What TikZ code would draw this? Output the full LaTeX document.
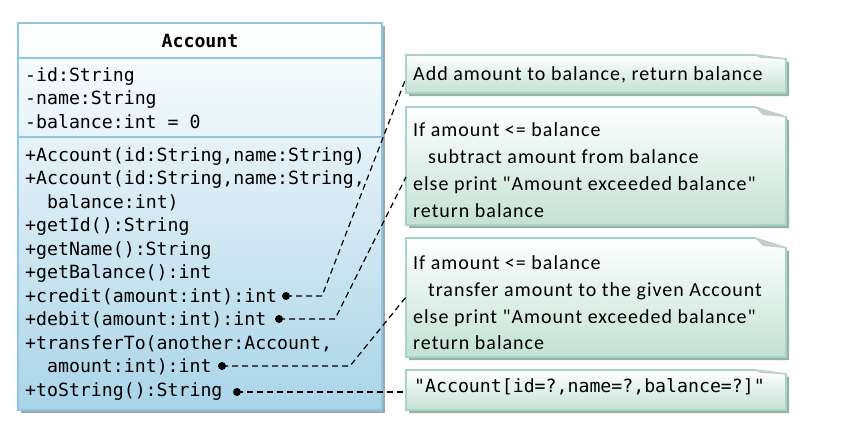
\documentclass[tikz,border=0pt]{standalone}
\usepackage{fontspec}
\setmainfont{Carlito}
\newfontfamily\notefont{Carlito}[LetterSpace=5]
\newfontfamily\codefont{DejaVu Sans Mono}
\usepackage{tikz}
\usetikzlibrary{positioning}
\definecolor{umlborder}{HTML}{8DC7E0}
\definecolor{umlfill}{HTML}{AAD4E8}
\definecolor{umlshadow}{HTML}{9CA8AF}
\definecolor{noteborder}{HTML}{A6D5C4}
\definecolor{notefill}{HTML}{C3E1D4}
\definecolor{noteshadow}{HTML}{98B0A7}
\definecolor{foldgray}{HTML}{CACACE}
\tikzset{
	classline/.style={draw=umlborder, line width=1.6pt},
	noteline/.style={draw=noteborder, line width=1.6pt},
	member/.style={anchor=base west, inner sep=0pt, font=\codefont\fontsize{18.2}{22}\selectfont},
	notetext/.style={anchor=base west, inner sep=0pt, font=\notefont\fontsize{20}{24}\selectfont},
	dashlink/.style={line width=1.2pt, dash pattern=on 6pt off 4pt},
	%	dotend/.style={fill=black},
}
\begin{document}
\begin{tikzpicture}[x=1pt,y=-1pt]
\useasboundingbox (0,0) rectangle (852,440);

% class box
\fill[umlshadow] (21,26) rectangle (385,413);
\shade[top color=white, bottom color=umlfill] (18,23) rectangle (382,410);
\draw[classline] (18,23) rectangle (382,410);
\draw[classline] (18,58)--(382,58);
\draw[classline] (18,137)--(382,137);
\node[member, anchor=center, font=\codefont\bfseries\fontsize{18.2}{22}\selectfont] (classname) at (200,41) {Account};
\node[member] (attid) at (25,81) {-id:String};
\node[member] (attname) at (25,104.5) {-name:String};
\node[member] (attbal) at (25,128) {-balance:int = 0};
\node[member] (ctorone) at (25,161) {+Account(id:String,name:String)};
\node[member] (ctortwo) at (25,184.5) {+Account(id:String,name:String,};
\node[member] (ctortwob) at (47,208) {balance:int)};
\node[member] (getid) at (25,231.5) {+getId():String};
\node[member] (getname) at (25,255) {+getName():String};
\node[member] (getbal) at (25,278.5) {+getBalance():int};
\node[member] (credit) at (25,302) {+credit(amount:int):int};
\node[member] (debit) at (25,325.5) {+debit(amount:int):int};
\node[member] (transfer) at (25,349) {+transferTo(another:Account,};
\node[member] (transferb) at (47,372.5) {amount:int):int};
\node[member] (tostr) at (25,396) {+toString():String};

% notes
\fill[noteshadow] (409,58)--(758,58)--(789,62)--(789,96)--(409,96)--cycle;
\shade[top color=white, bottom color=notefill] (406,55)--(755,55)--(786,59)--(786,93)--(406,93)--cycle;
\draw[noteline] (406,55)--(755,55)--(786,59)--(786,93)--(406,93)--cycle;
\fill[foldgray] (755,55)--(786,59)--(760,58)--cycle;

\fill[noteshadow] (409,110)--(758,110)--(789,120)--(789,228)--(409,228)--cycle;
\shade[top color=white, bottom color=notefill] (406,107)--(755,107)--(786,117)--(786,225)--(406,225)--cycle;
\draw[noteline] (406,107)--(755,107)--(786,117)--(786,225)--(406,225)--cycle;
\fill[foldgray] (755,107)--(786,117)--(763,115)--cycle;

\fill[noteshadow] (409,241)--(758,241)--(789,251)--(789,360)--(409,360)--cycle;
\shade[top color=white, bottom color=notefill] (406,238)--(755,238)--(786,248)--(786,357)--(406,357)--cycle;
\draw[noteline] (406,238)--(755,238)--(786,248)--(786,357)--(406,357)--cycle;
\fill[foldgray] (755,238)--(786,248)--(763,246)--cycle;

\fill[noteshadow] (409,373)--(758,373)--(789,377)--(789,413)--(409,413)--cycle;
\shade[top color=white, bottom color=notefill] (406,370)--(755,370)--(786,374)--(786,410)--(406,410)--cycle;
\draw[noteline] (406,370)--(755,370)--(786,374)--(786,410)--(406,410)--cycle;
\fill[foldgray] (755,370)--(786,374)--(760,373)--cycle;

\node[notetext] (creditnote) at (413,80) {Add amount to balance, return balance};
\node[notetext] (debitnotea) at (413,136) {If amount <= balance};
\node[notetext] (debitnoteb) at (428,163) {subtract amount from balance};
\node[notetext] (debitnotec) at (413,190) {else print "Amount exceeded balance"};
\node[notetext] (debitnoted) at (413,217) {return balance};
\node[notetext] (transnotea) at (413,269) {If amount <= balance};
\node[notetext] (transnoteb) at (428,296) {transfer amount to the given Account};
\node[notetext] (transnotec) at (413,323) {else print "Amount exceeded balance"};
\node[notetext] (transnoted) at (413,349) {return balance};
\node[notetext, font=\codefont\fontsize{18.2}{20}\selectfont] (tostrnote) at (414,392) {"Account[id=?,name=?,balance=?]"};

% connectors
\coordinate (creditdot) at (286,296);
\coordinate (creditbend) at (322,296);
\coordinate (creditend) at (406,78);
\coordinate (debitdot) at (279,319);
\coordinate (debitbend) at (335,319);
\coordinate (debitend) at (406,177);
\coordinate (transdot) at (222,366);
\coordinate (transbend) at (350,366);
\coordinate (transend) at (406,297);
\coordinate (tostrdot) at (237,392);
\coordinate (tostrend) at (406,392);
\draw[dashlink] (creditdot)--(creditbend)--(creditend);
\draw[dashlink] (debitdot)--(debitbend)--(debitend);
\draw[dashlink] (transdot)--(transbend)--(transend);
\draw[dashlink] (tostrdot)--(tostrend);
\fill (creditdot) circle (4pt);
\fill (debitdot) circle (4pt);
\fill (transdot) circle (4pt);
\fill (tostrdot) circle (4pt);

\end{tikzpicture}
\end{document}
